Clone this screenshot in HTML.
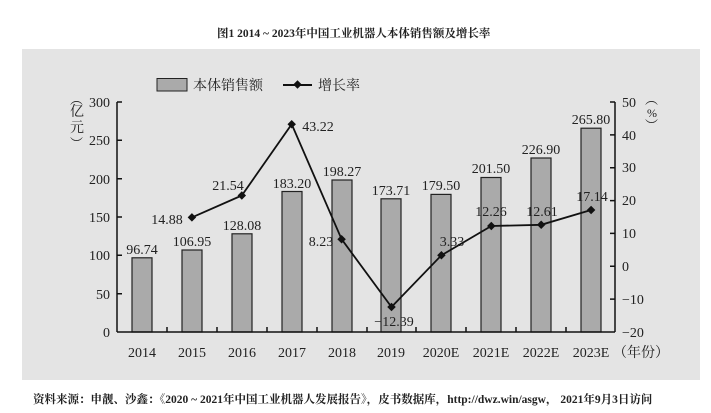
<!DOCTYPE html><html><head><meta charset="utf-8"><style>body{margin:0;background:#fff}svg{display:block}text{font-family:"Liberation Serif","Noto Serif CJK SC",serif;fill:#222}</style></head><body>
<svg width="711" height="413" viewBox="0 0 711 413">
<text x="217" y="37" font-size="11.5" font-weight="bold">图1  2014 ~ 2023年中国工业机器人本体销售额及增长率</text>
<rect x="22" y="49" width="678" height="331" fill="#e4e4e4"/>
<rect x="157" y="78.5" width="30" height="12.5" fill="#aaa" stroke="#222"/>
<text x="193" y="90" font-size="14" font-family="Liberation Sans,Noto Sans CJK SC,sans-serif">本体销售额</text>
<line x1="283" y1="85" x2="312" y2="85" stroke="#111" stroke-width="2"/><rect x="294.5" y="81.5" width="6" height="6" transform="rotate(45 297.5 84.5)" fill="#111"/>
<text x="318" y="90" font-size="14" font-family="Liberation Sans,Noto Sans CJK SC,sans-serif">增长率</text>
<g fill="#aaa" stroke="#222" stroke-width="1.2">
<rect x="132" y="257.8" width="20" height="74.2"/>
<rect x="182" y="250" width="20" height="82"/>
<rect x="232" y="233.8" width="20" height="98.2"/>
<rect x="282" y="191.5" width="20" height="140.5"/>
<rect x="332" y="180" width="20" height="152"/>
<rect x="381" y="198.8" width="20" height="133.2"/>
<rect x="431" y="194.4" width="20" height="137.6"/>
<rect x="481" y="177.5" width="20" height="154.5"/>
<rect x="531" y="158" width="20" height="174"/>
<rect x="581" y="128.2" width="20" height="203.8"/>
</g>
<g stroke="#111" stroke-width="1.5" fill="none">
<line x1="117" y1="102" x2="117" y2="332"/><line x1="615" y1="102" x2="615" y2="332"/><line x1="117" y1="332" x2="615" y2="332"/>
<path d="M117 102h5M117 140.3h5M117 178.7h5M117 217h5M117 255.3h5M117 293.7h5M615 102h-5M615 134.9h-5M615 167.7h-5M615 200.6h-5M615 233.4h-5M615 266.3h-5M615 299.1h-5"/>
<path d="M167 332v-5M217 332v-5M267 332v-5M317 332v-5M367 332v-5M416 332v-5M466 332v-5M516 332v-5M566 332v-5"/>
<polyline points="191.9,217.4 241.8,195.5 291.7,124.2 341.6,239.2 391.5,307 441.4,255.3 491.3,226 541.2,224.8 591.1,210" stroke-width="1.8"/>
</g>
<g fill="#111">
<rect x="188.9" y="214.4" width="6" height="6" transform="rotate(45 191.9 217.4)"/><rect x="238.8" y="192.5" width="6" height="6" transform="rotate(45 241.8 195.5)"/><rect x="288.7" y="121.2" width="6" height="6" transform="rotate(45 291.7 124.2)"/><rect x="338.6" y="236.2" width="6" height="6" transform="rotate(45 341.6 239.2)"/><rect x="388.5" y="304" width="6" height="6" transform="rotate(45 391.5 307)"/><rect x="438.4" y="252.3" width="6" height="6" transform="rotate(45 441.4 255.3)"/><rect x="488.3" y="223" width="6" height="6" transform="rotate(45 491.3 226)"/><rect x="538.2" y="221.8" width="6" height="6" transform="rotate(45 541.2 224.8)"/><rect x="588.1" y="207" width="6" height="6" transform="rotate(45 591.1 210)"/>
</g>
<g font-size="14" text-anchor="middle">
<text x="142" y="254">96.74</text><text x="192" y="246">106.95</text><text x="242" y="230">128.08</text><text x="292" y="188">183.20</text><text x="342" y="176">198.27</text><text x="391" y="195">173.71</text><text x="441" y="190">179.50</text><text x="491" y="173">201.50</text><text x="541" y="154">226.90</text><text x="591" y="124">265.80</text>
<text x="167" y="224">14.88</text><text x="228" y="190">21.54</text><text x="318" y="131">43.22</text><text x="321" y="246">8.23</text><text x="394" y="326">−12.39</text><text x="452" y="246">3.33</text><text x="491" y="216">12.26</text><text x="542" y="216">12.61</text><text x="592" y="201">17.14</text>
</g>
<g font-size="14" text-anchor="end">
<text x="110" y="107">300</text><text x="110" y="145">250</text><text x="110" y="184">200</text><text x="110" y="222">150</text><text x="110" y="260">100</text><text x="110" y="299">50</text><text x="110" y="337">0</text>
</g>
<g font-size="14">
<text x="622" y="107">50</text><text x="622" y="140">40</text><text x="622" y="172">30</text><text x="622" y="205">20</text><text x="622" y="238">10</text><text x="622" y="271">0</text><text x="622" y="304">−10</text><text x="622" y="337">−20</text>
</g>
<g font-size="14" text-anchor="middle">
<text x="142" y="357">2014</text><text x="192" y="357">2015</text><text x="242" y="357">2016</text><text x="292" y="357">2017</text><text x="342" y="357">2018</text><text x="391" y="357">2019</text><text x="441" y="357">2020E</text><text x="491" y="357">2021E</text><text x="541" y="357">2022E</text><text x="591" y="357">2023E</text>
</g>
<text x="613" y="357" font-size="14">（年份）</text>
<text x="70" y="104" font-size="13">︵</text><text x="70" y="116" font-size="14">亿</text><text x="70" y="132" font-size="14">元</text><text x="70" y="148" font-size="13">︶</text>
<text x="645" y="104" font-size="13">︵</text><text x="647" y="117" font-size="12">%</text><text x="645" y="130" font-size="13">︶</text>
<text x="33" y="403" font-size="11.5" font-weight="bold">资料来源：申靓、沙鑫：《2020 ~ 2021年中国工业机器人发展报告》，皮书数据库，http://dwz.win/asgw， 2021年9月3日访问</text>
</svg></body></html>
